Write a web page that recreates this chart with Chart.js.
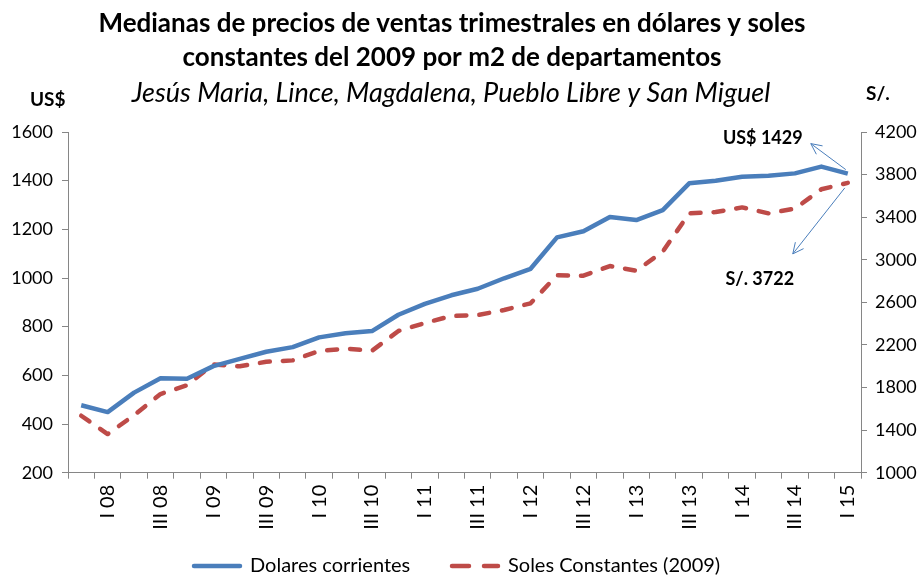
<!DOCTYPE html>
<html>
<head>
<meta charset="utf-8">
<script src="https://cdn.jsdelivr.net/npm/chart.js@4/dist/chart.umd.min.js"></script>
<style>
  html, body { margin: 0; padding: 0; background: #fff; }
  canvas { display: block; }
</style>
</head>
<body>
<canvas id="chart" width="923" height="577"></canvas>
<script>
// Quarters, IV 2007 .. I 2015
const quarters = [
  "IV 07", "I 08", "II 08", "III 08", "IV 08",
  "I 09", "II 09", "III 09", "IV 09",
  "I 10", "II 10", "III 10", "IV 10",
  "I 11", "II 11", "III 11", "IV 11",
  "I 12", "II 12", "III 12", "IV 12",
  "I 13", "II 13", "III 13", "IV 13",
  "I 14", "II 14", "III 14", "IV 14",
  "I 15"
];

// US$ per m2 (left axis)
const dolares = [
  477, 449, 529, 588, 586, 638, 668, 697, 716, 756,
  773, 782, 849, 894, 929, 956, 999, 1038, 1167, 1192,
  1251, 1238, 1279, 1389, 1400, 1416, 1420, 1430, 1458, 1429
];

// S/. constantes 2009 per m2 (right axis)
const soles = [
  1535, 1363, 1540, 1739, 1821, 2018, 1999, 2042, 2055, 2143,
  2165, 2146, 2331, 2406, 2472, 2481, 2528, 2591, 2854, 2850,
  2941, 2897, 3076, 3436, 3448, 3492, 3436, 3480, 3662, 3722
];

// Axis ranges
const leftTicks = { min: 200, max: 1600, step: 200 };
const rightTicks = { min: 1000, max: 4200, step: 400 };

const titleLines = [
  "Medianas de precios de ventas trimestrales en dólares y soles",
  "constantes del 2009 por m2 de departamentos"
];
const subtitle = "Jesús Maria, Lince, Magdalena, Pueblo Libre y San Miguel";

const BLUE = "#4A7EBB";
const RED = "#BE4B48";
const AXIS = "#868686";
const FONT = "Lato, 'Open Sans', sans-serif";

// Titles, unit labels, legend and the two value callouts
const extras = {
  id: "extras",
  afterDraw(chart) {
    const c = chart.ctx;
    c.save();
    c.fillStyle = "#000";
    c.textAlign = "center";
    c.textBaseline = "middle";
    c.font = "bold 26px " + FONT;
    c.fillText(titleLines[0], 452, 24);
    c.fillText(titleLines[1], 452, 58);
    c.font = "italic 27px " + FONT;
    c.fillText(subtitle, 451, 93);

    c.font = "bold 19px " + FONT;
    c.textAlign = "left";
    c.fillText("US$", 30, 100);
    c.fillText("S/.", 866, 94);

    const last = quarters.length - 1;
    const pUs = chart.getDatasetMeta(0).data[last];
    const pSo = chart.getDatasetMeta(1).data[last];

    c.textAlign = "center";
    c.font = "bold 18px " + FONT;
    c.fillText("US$ " + dolares[last], pUs.x - 85, pUs.y - 35);
    c.fillText("S/. " + soles[last], pSo.x - 88, pSo.y + 96);

    arrow(c, pUs.x - 2, pUs.y - 4, pUs.x - 37, pUs.y - 30);
    arrow(c, pSo.x - 3, pSo.y + 5, pSo.x - 55, pSo.y + 71);

    // legend
    const ly = 566;
    const items = [
      { ds: chart.data.datasets[0], x: 194, dash: [] },
      { ds: chart.data.datasets[1], x: 452, dash: [17, 15] }
    ];
    c.font = "20px " + FONT;
    c.textAlign = "left";
    items.forEach((it) => {
      c.strokeStyle = it.ds.borderColor;
      c.lineWidth = 4.5;
      c.lineCap = "round";
      c.setLineDash(it.dash);
      c.beginPath();
      c.moveTo(it.x, ly);
      c.lineTo(it.x + 46, ly);
      c.stroke();
      c.setLineDash([]);
      c.fillText(it.ds.label, it.x + 56, ly);
    });
    c.restore();
  }
};

function arrow(c, x1, y1, x2, y2) {
  const a = Math.atan2(y2 - y1, x2 - x1);
  const len = 12, spread = 0.45;
  c.strokeStyle = BLUE;
  c.lineWidth = 1;
  c.beginPath();
  c.moveTo(x1, y1);
  c.lineTo(x2, y2);
  c.moveTo(x2 - len * Math.cos(a - spread), y2 - len * Math.sin(a - spread));
  c.lineTo(x2, y2);
  c.lineTo(x2 - len * Math.cos(a + spread), y2 - len * Math.sin(a + spread));
  c.stroke();
}

const PLOT_BOTTOM = 472.7;

const chart = new Chart(document.getElementById("chart"), {
  type: "line",
  data: {
    labels: quarters,
    datasets: [
      {
        label: "Dolares corrientes",
        data: dolares,
        yAxisID: "y",
        borderColor: BLUE,
        backgroundColor: BLUE,
        borderWidth: 4.5,
        borderJoinStyle: "round",
        pointRadius: 0,
        tension: 0
      },
      {
        label: "Soles Constantes (2009)",
        data: soles,
        yAxisID: "y2",
        borderColor: RED,
        backgroundColor: RED,
        borderWidth: 4.5,
        borderDash: [10, 13],
        borderCapStyle: "round",
        borderJoinStyle: "round",
        pointRadius: 0,
        tension: 0
      }
    ]
  },
  options: {
    responsive: false,
    animation: false,
    devicePixelRatio: 1,
    layout: { padding: { top: 132, left: 0, right: 0, bottom: 0 } },
    plugins: {
      tooltip: { enabled: false },
      legend: { display: false }
    },
    scales: {
      x: {
        offset: true,
        border: { color: AXIS, width: 1 },
        grid: { offset: true, drawOnChartArea: false, drawTicks: true, tickLength: 6, color: AXIS },
        ticks: {
          autoSkip: false,
          minRotation: 90,
          maxRotation: 90,
          padding: 6,
          color: "#000",
          font: { family: FONT, size: 20 },
          callback: (v, i) => (i % 2 === 1 ? quarters[i] : "")
        },
        afterFit(s) { s.height = 577 - PLOT_BOTTOM; }
      },
      y: {
        position: "left",
        min: leftTicks.min,
        max: leftTicks.max,
        border: { color: AXIS, width: 1 },
        grid: { drawOnChartArea: false, tickLength: 6, color: AXIS },
        ticks: {
          stepSize: leftTicks.step,
          padding: 9,
          color: "#000",
          font: { family: FONT, size: 18 },
          callback: (v) => String(v)
        },
        afterFit(s) { s.width = 68; }
      },
      y2: {
        position: "right",
        min: rightTicks.min,
        max: rightTicks.max,
        border: { color: AXIS, width: 1 },
        grid: { drawOnChartArea: false, tickLength: 6, color: AXIS },
        ticks: {
          stepSize: rightTicks.step,
          padding: 8,
          color: "#000",
          font: { family: FONT, size: 18 },
          callback: (v) => String(v)
        },
        afterFit(s) { s.width = 62; }
      }
    }
  },
  plugins: [extras]
});
</script>
</body>
</html>
